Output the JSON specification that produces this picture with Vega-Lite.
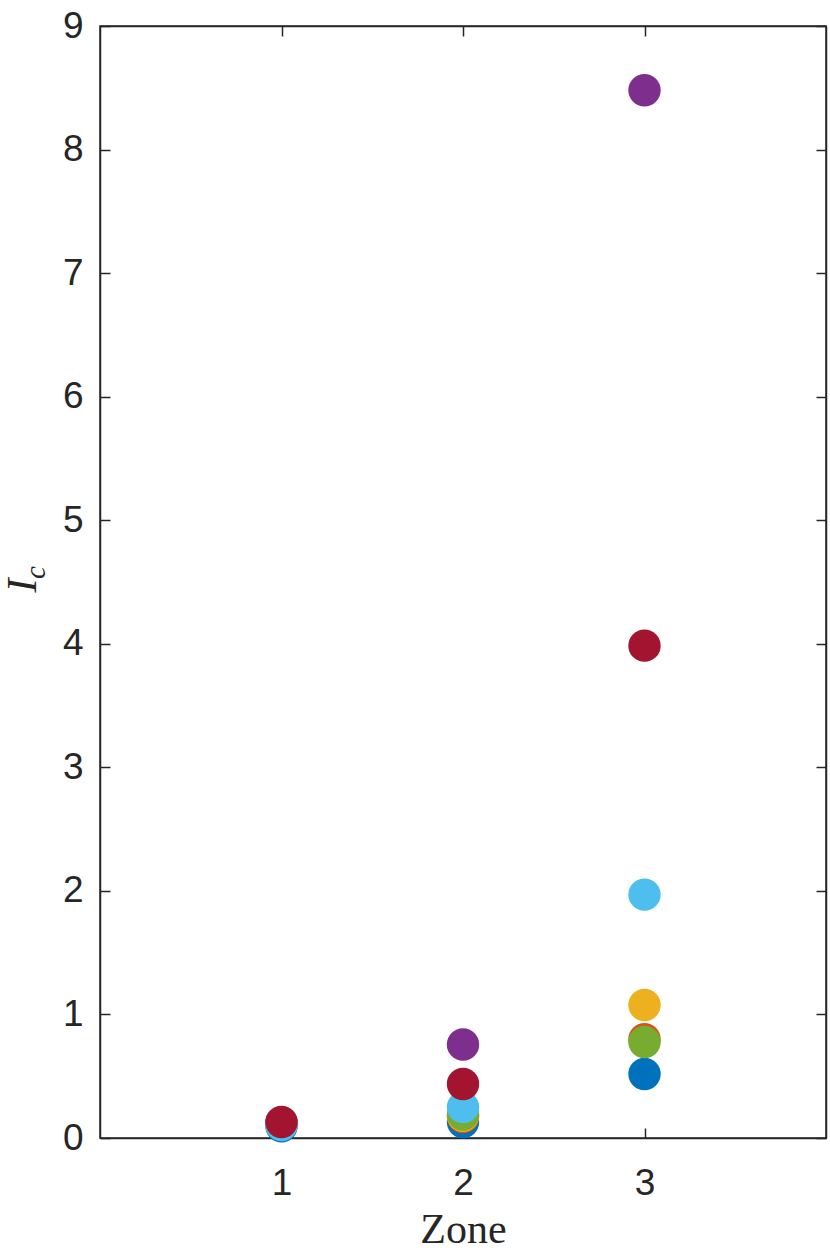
{
  "$schema": "https://vega.github.io/schema/vega-lite/v6.json",
  "autosize": {"type": "none"},
  "width": 726,
  "height": 1112,
  "padding": {"left": 100, "top": 26, "right": 4, "bottom": 120},
  "background": "white",
  "config": {
    "view": {"stroke": "#262626", "strokeWidth": 1.5},
    "axis": {
      "domainColor": "#262626", "domainWidth": 1.5,
      "tickColor": "#262626", "tickWidth": 1.5, "tickSize": -10,
      "labelColor": "#262626", "labelFont": "Liberation Sans", "labelFontSize": 37,
      "grid": false, "titleColor": "#262626"
    }
  },
  "data": {"values": [
    {"zone": 1, "ic": 0.095, "s": "A"},
    {"zone": 2, "ic": 0.13, "s": "A"},
    {"zone": 3, "ic": 0.518, "s": "A"},
    {"zone": 1, "ic": 0.11, "s": "B"},
    {"zone": 2, "ic": 0.17, "s": "B"},
    {"zone": 3, "ic": 0.80, "s": "B"},
    {"zone": 1, "ic": 0.115, "s": "C"},
    {"zone": 2, "ic": 0.18, "s": "C"},
    {"zone": 3, "ic": 1.076, "s": "C"},
    {"zone": 1, "ic": 0.12, "s": "D"},
    {"zone": 2, "ic": 0.757, "s": "D"},
    {"zone": 3, "ic": 8.48, "s": "D"},
    {"zone": 1, "ic": 0.115, "s": "E"},
    {"zone": 2, "ic": 0.19, "s": "E"},
    {"zone": 3, "ic": 0.777, "s": "E"},
    {"zone": 1, "ic": 0.105, "s": "F"},
    {"zone": 2, "ic": 0.25, "s": "F"},
    {"zone": 3, "ic": 1.97, "s": "F"},
    {"zone": 1, "ic": 0.13, "s": "G"},
    {"zone": 2, "ic": 0.437, "s": "G"},
    {"zone": 3, "ic": 3.985, "s": "G"}
  ]},
  "resolve": {"axis": {"x": "independent", "y": "independent"}},
  "layer": [
    {
      "mark": {"type": "point", "filled": true, "opacity": 1, "size": 1050, "shape": "circle"},
      "encoding": {
        "x": {"field": "zone", "type": "quantitative", "scale": {"domain": [0, 4], "nice": false, "zero": false},
          "axis": {"values": [1, 2, 3], "title": "Zone", "titleFont": "Liberation Serif", "titleFontSize": 42, "titleFontWeight": "normal",
            "titleX": 363, "titleY": 104, "titleBaseline": "alphabetic", "titleAlign": "center",
            "labelBaseline": "alphabetic", "labelPadding": 66}},
        "y": {"field": "ic", "type": "quantitative", "scale": {"domain": [0, 9], "nice": false, "zero": false},
          "axis": {"values": [0, 1, 2, 3, 4, 5, 6, 7, 8, 9], "title": "I", "titleFont": "Liberation Serif", "titleFontStyle": "italic",
            "titleFontSize": 42, "titleFontWeight": "normal", "titleAngle": -90, "titleX": -78, "titleY": 559,
            "titleBaseline": "middle", "titleAlign": "center", "labelPadding": 27}},
        "color": {"field": "s", "type": "nominal", "legend": null,
          "scale": {"domain": ["A", "B", "C", "D", "E", "F", "G"],
            "range": ["#0072BD", "#D95319", "#EDB120", "#7E2F8E", "#77AC30", "#4DBEEE", "#A2142F"]}}
      }
    },
    {
      "mark": {"type": "point", "opacity": 0},
      "encoding": {
        "x": {"field": "zone", "type": "quantitative", "scale": {"domain": [0, 4], "nice": false, "zero": false},
          "axis": {"orient": "top", "values": [1, 2, 3], "labels": false, "title": "c",
            "titleFont": "Liberation Serif", "titleFontStyle": "italic", "titleFontSize": 29, "titleFontWeight": "normal",
            "titleAngle": -90, "titleX": -65, "titleY": 546, "titleBaseline": "middle", "titleAlign": "center"}},
        "y": {"field": "ic", "type": "quantitative", "scale": {"domain": [0, 9], "nice": false, "zero": false},
          "axis": {"orient": "right", "values": [0, 1, 2, 3, 4, 5, 6, 7, 8, 9], "labels": false, "title": null}}
      }
    }
  ]
}
